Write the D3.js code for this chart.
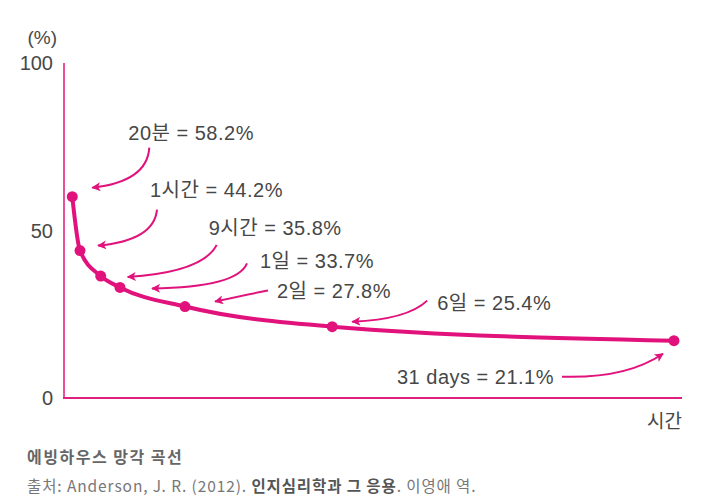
<!DOCTYPE html>
<html><head><meta charset="utf-8">
<script src="https://cdn.jsdelivr.net/npm/d3@7"></script>
<style>
html,body{margin:0;padding:0;background:#fff;}
svg{display:block;}
</style></head>
<body>
<svg id="chart" width="712" height="501"></svg>
<script>
// ---- data ----
const timeLabels = ["20분", "1시간", "9시간", "1일", "2일", "6일", "31 days"];
const retentionLabels = ["58.2%", "44.2%", "35.8%", "33.7%", "27.8%", "25.4%", "21.1%"];
// plotted positions (x: relative time position 0-100, y: % retained)
const timePos = [1.34, 2.59, 5.94, 9.06, 19.58, 43.4, 98.7];
const retention = [60.1, 44.0, 36.4, 33.0, 27.3, 21.3, 17.1];
const yTicks = [0, 50, 100];

// annotation layout (offsets in px from each point)
const annLayout = [
  {tx: 56, ty: -64, sx: 77, sy: -49, cx: 75, cy: -15, ex: 20, ey: -9},
  {tx: 70, ty: -61, sx: 77, sy: -41, cx: 74, cy: -10, ex: 18, ey: -5},
  {tx: 108, ty: -48, sx: 116, sy: -31, cx: 102, cy: -4, ex: 27, ey: 1},
  {tx: 140, ty: -26, sx: 127, sy: -24, cx: 117, cy: 0, ex: 32, ey: 1},
  {tx: 92, ty: -16, sx: 83, sy: -16, cx: 62, cy: -12, ex: 30, ey: -5},
  {tx: 105, ty: -24, sx: 95, sy: -26, cx: 75, cy: -7, ex: 20, ey: -5},
  {tx: -277, ty: 36, sx: -112, sy: 36, cx: -48, cy: 38, ex: -11, ey: 13}
];

const svg = d3.select("#chart");
const x = d3.scaleLinear().domain([0, 100]).range([64, 682]);
const y = d3.scaleLinear().domain([0, 100]).range([398, 63]);

const curveColor = "#e1127c";
const axisColor = "#e8509c";
const textColor = "#474747";
const labelFont = "'Liberation Sans', 'Noto Sans CJK KR', Arial, sans-serif";

// axes
svg.append("line").attr("x1", x(0)).attr("x2", x(0)).attr("y1", y(100)).attr("y2", y(0))
  .attr("stroke", axisColor).attr("stroke-width", 2);
svg.append("line").attr("x1", x(0) - 1).attr("x2", x(100)).attr("y1", y(0)).attr("y2", y(0))
  .attr("stroke", "#e0207f").attr("stroke-width", 2);

// y tick labels
svg.selectAll("text.ytick").data(yTicks).enter().append("text")
  .attr("class", "ytick")
  .attr("x", 53).attr("y", d => y(d))
  .attr("dy", "0.35em")
  .attr("text-anchor", "end")
  .attr("font-family", labelFont).attr("font-size", 20)
  .attr("fill", textColor)
  .text(d => d);

svg.append("text").attr("x", 57).attr("y", 37).attr("dy", "0.35em")
  .attr("text-anchor", "end").attr("font-family", labelFont).attr("font-size", 19)
  .attr("fill", textColor).text("(%)");

svg.append("text").attr("x", 682).attr("y", 421).attr("dy", "0.35em")
  .attr("text-anchor", "end").attr("font-family", "'Noto Sans CJK KR', sans-serif").attr("font-size", 19)
  .attr("fill", textColor).text("시간");

// marker
svg.append("defs").append("marker")
  .attr("id", "arrow").attr("viewBox", "0 0 10 10")
  .attr("refX", 9).attr("refY", 5)
  .attr("markerWidth", 11).attr("markerHeight", 9)
  .attr("markerUnits", "userSpaceOnUse")
  .attr("orient", "auto")
  .append("path").attr("d", "M0,0 L10,5 L0,10 L2.5,5 Z").attr("fill", curveColor);

const pts = timePos.map((t, i) => ({x: x(t), y: y(retention[i]), i}));

// curve
const line = d3.line().x(d => d.x).y(d => d.y).curve(d3.curveMonotoneX);
svg.append("path").datum(pts).attr("d", line)
  .attr("fill", "none").attr("stroke", curveColor).attr("stroke-width", 4)
  .attr("stroke-linecap", "round");

// dots
svg.selectAll("circle.pt").data(pts).enter().append("circle")
  .attr("class", "pt").attr("cx", d => d.x).attr("cy", d => d.y).attr("r", 5.5)
  .attr("fill", curveColor);

// annotations
pts.forEach((p, i) => {
  const a = annLayout[i];
  svg.append("path")
    .attr("d", `M${p.x + a.sx},${p.y + a.sy} Q${p.x + a.cx},${p.y + a.cy} ${p.x + a.ex},${p.y + a.ey}`)
    .attr("fill", "none").attr("stroke", curveColor).attr("stroke-width", 2)
    .attr("marker-end", "url(#arrow)");
  svg.append("text")
    .attr("x", p.x + a.tx).attr("y", p.y + a.ty).attr("dy", "0.35em")
    .attr("font-family", labelFont).attr("font-size", 20)
    .attr("letter-spacing", 0.5)
    .attr("fill", textColor)
    .text(`${timeLabels[i]} = ${retentionLabels[i]}`);
});

// caption
const capFont = "'Noto Sans CJK KR', sans-serif";
svg.append("text").attr("x", 27).attr("y", 457).attr("dy", "0.35em")
  .attr("font-family", capFont).attr("font-size", 16).attr("font-weight", "bold")
  .attr("letter-spacing", 1.5).attr("fill", "#666").text("에빙하우스 망각 곡선");

const src = svg.append("text").attr("x", 27).attr("y", 487).attr("dy", "0.35em")
  .attr("font-family", capFont).attr("font-size", 15.5).attr("fill", "#777")
  .attr("letter-spacing", 0.9);
src.append("tspan").text("출처: Anderson, J. R. (2012). ");
src.append("tspan").attr("font-weight", "bold").attr("fill", "#555").text("인지심리학과 그 응용");
src.append("tspan").text(". 이영애 역.");
</script>
</body></html>
